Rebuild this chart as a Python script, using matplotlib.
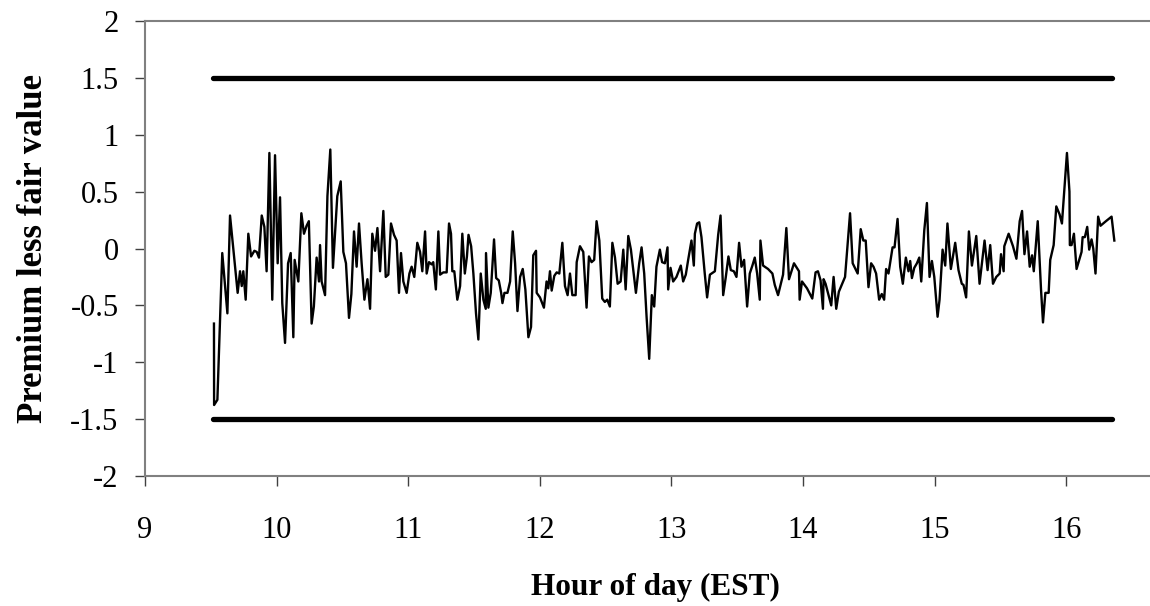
import numpy as np
import matplotlib
matplotlib.use("Agg")
import matplotlib.pyplot as plt

# -------------------------
# Data
# -------------------------
hours = [
    9.524, 9.525, 9.55, 9.587, 9.626, 9.646, 9.704, 9.722, 9.735, 9.747, 9.765, 9.785,
    9.806, 9.831, 9.849, 9.866, 9.887, 9.907, 9.924, 9.945, 9.967, 9.988, 10.008, 10.026,
    10.043, 10.064, 10.087, 10.107, 10.127, 10.137, 10.165, 10.188, 10.208, 10.228, 10.245,
    10.266, 10.283, 10.304, 10.322, 10.33, 10.342, 10.368, 10.386, 10.408, 10.428, 10.461,
    10.487, 10.507, 10.527, 10.55, 10.568, 10.588, 10.608, 10.626, 10.646, 10.667, 10.69,
    10.71, 10.727, 10.748, 10.766, 10.786,
    10.811, 10.829, 10.849, 10.869, 10.892, 10.912, 10.93, 10.945, 10.963, 10.988, 11.009,
    11.026, 11.046, 11.069, 11.09, 11.107, 11.128, 11.14, 11.158, 11.178, 11.19, 11.21,
    11.229, 11.242, 11.267, 11.292, 11.31, 11.325, 11.335, 11.35, 11.373, 11.394, 11.411,
    11.43, 11.446, 11.458, 11.478, 11.495, 11.515, 11.533, 11.551, 11.571, 11.589, 11.591,
    11.609, 11.627, 11.652, 11.668, 11.688, 11.706, 11.716, 11.731, 11.754, 11.774, 11.794,
    11.812, 11.83, 11.85, 11.87, 11.89, 11.913, 11.933, 11.95, 11.971, 11.976, 12.001,
    12.031, 12.051, 12.064, 12.077, 12.09, 12.11, 12.128, 12.148, 12.171, 12.191, 12.211,
    12.229, 12.247, 12.272, 12.28, 12.305, 12.33, 12.355, 12.373, 12.393, 12.413, 12.431,
    12.452, 12.474, 12.494, 12.512, 12.532,
    12.551, 12.571, 12.591, 12.614, 12.634, 12.652, 12.672, 12.692, 12.71, 12.73, 12.755,
    12.773, 12.793, 12.811, 12.831, 12.851, 12.869, 12.886, 12.912, 12.929, 12.95, 12.97,
    12.975, 12.993, 13.013, 13.038, 13.071, 13.089, 13.109, 13.127, 13.152, 13.17, 13.178,
    13.195, 13.211, 13.228, 13.253, 13.271, 13.292, 13.33, 13.355, 13.373, 13.393, 13.413,
    13.433, 13.451, 13.474, 13.494, 13.514, 13.532, 13.552, 13.575, 13.595, 13.615, 13.633,
    13.651, 13.671, 13.676, 13.696, 13.734, 13.767, 13.785, 13.81, 13.848, 13.873, 13.893,
    13.931, 13.969, 13.974, 13.992, 14.03, 14.07, 14.095, 14.113, 14.133, 14.151, 14.156,
    14.171, 14.189, 14.214, 14.232, 14.252, 14.272,
    14.319, 14.357, 14.377, 14.415, 14.438, 14.458, 14.476, 14.497, 14.517, 14.535, 14.555,
    14.578, 14.598, 14.616, 14.631, 14.649, 14.68, 14.695, 14.718, 14.738, 14.758, 14.781,
    14.801, 14.814, 14.827, 14.845, 14.865, 14.883, 14.898, 14.921, 14.941, 14.961, 14.979,
    14.997, 15.022, 15.037, 15.06, 15.08, 15.097, 15.123, 15.156, 15.181, 15.206, 15.219,
    15.239, 15.26, 15.283, 15.316, 15.341, 15.379, 15.402, 15.422, 15.443, 15.468, 15.494,
    15.504, 15.524, 15.529, 15.562, 15.595, 15.621, 15.646, 15.664, 15.682, 15.702, 15.722,
    15.74, 15.753, 15.783, 15.808, 15.823, 15.841, 15.866, 15.878, 15.904, 15.924, 15.949,
    15.967, 16.005,
    16.024, 16.027, 16.04, 16.058, 16.078, 16.098, 16.116, 16.124, 16.141, 16.159, 16.174,
    16.192, 16.205, 16.222, 16.242, 16.26, 16.301, 16.344, 16.365,
]
premium = [
    -0.66, -1.376, -1.33, -0.04, -0.57, 0.29, -0.39, -0.20, -0.33, -0.20, -0.45, 0.13,
    -0.07, -0.02, -0.03, -0.08, 0.29, 0.19, -0.20, 0.84, -0.45, 0.82, -0.13, 0.45,
    -0.48, -0.83, -0.13, -0.04, -0.78, -0.10, -0.29, 0.31, 0.13, 0.20, 0.24,
    -0.66, -0.51, -0.08, -0.29, 0.03, -0.29, -0.41, 0.46, 0.87, -0.17, 0.46,
    0.59, -0.03, -0.13, -0.61, -0.40, 0.15, -0.16, 0.22, -0.13, -0.45, -0.27,
    -0.53, 0.13, -0.02, 0.18, -0.20,
    0.33, -0.25, -0.23, 0.22, 0.12, 0.07, -0.39, -0.04, -0.29, -0.39, -0.22,
    -0.16, -0.25, 0.05, -0.03, -0.20, 0.15, -0.22, -0.12, -0.14, -0.12, -0.36,
    0.15, -0.23, -0.21, -0.21, 0.22, 0.13, -0.20, -0.20, -0.45, -0.33, 0.13,
    -0.22, -0.07, 0.12, 0.02, -0.22, -0.57, -0.80, -0.22, -0.45, -0.53, -0.04,
    -0.52, -0.39, 0.08, -0.26, -0.28, -0.39, -0.48, -0.39, -0.39, -0.29, 0.15,
    -0.13, -0.55, -0.25, -0.18, -0.36, -0.78, -0.69, -0.06, -0.02, -0.39, -0.43,
    -0.52, -0.29, -0.35, -0.20, -0.37, -0.24, -0.21, -0.22, 0.05, -0.33, -0.41,
    -0.22, -0.41, -0.41, -0.12, 0.02, -0.03, -0.52, -0.07, -0.12, -0.10, 0.24,
    0.07, -0.44, -0.47, -0.45, -0.51,
    0.05, -0.08, -0.31, -0.29, -0.01, -0.36, 0.11, -0.01, -0.19, -0.39, -0.13,
    0.01, -0.22, -0.60, -0.97, -0.41, -0.51, -0.16, -0.01, -0.12, -0.13, 0.01,
    -0.36, -0.17, -0.29, -0.25, -0.15, -0.29, -0.23, -0.10, 0.07, -0.15, 0.13,
    0.22, 0.23, 0.10, -0.22, -0.43, -0.23, -0.20, 0.12, 0.29, -0.41, -0.25,
    -0.07, -0.19, -0.20, -0.25, 0.05, -0.16, -0.10, -0.51, -0.22, -0.15, -0.08,
    -0.22, -0.45, 0.07, -0.15, -0.18, -0.22, -0.32, -0.41, -0.23, 0.18, -0.27,
    -0.13, -0.20, -0.45, -0.29, -0.35, -0.44, -0.21, -0.20, -0.28, -0.53, -0.27,
    -0.31, -0.39, -0.50, -0.25, -0.53, -0.38,
    -0.25, 0.31, -0.13, -0.22, 0.17, 0.07, 0.07, -0.34, -0.13, -0.16, -0.22,
    -0.45, -0.40, -0.45, -0.18, -0.22, 0.01, 0.01, 0.26, -0.16, -0.31, -0.08,
    -0.20, -0.11, -0.26, -0.17, -0.13, -0.08, -0.29, 0.16, 0.40, -0.25, -0.11,
    -0.25, -0.60, -0.45, -0.01, -0.15, 0.22, -0.18, 0.05, -0.19, -0.31, -0.32,
    -0.43, 0.15, -0.15, 0.11, -0.31, 0.07, -0.19, 0.03, -0.31, -0.25, -0.22,
    -0.05, -0.20, 0.02, 0.13, 0.02, -0.09, 0.24, 0.33, -0.05, 0.15, -0.16,
    -0.06, -0.20, 0.24, -0.36, -0.65, -0.39, -0.39, -0.10, 0.03, 0.37, 0.30,
    0.22, 0.84,
    0.50, 0.03, 0.03, 0.13, -0.18, -0.10, -0.03, 0.10, 0.10, 0.19, -0.01,
    0.08, 0.00, -0.22, 0.28, 0.20, 0.24, 0.28, 0.07,
]
band_hours = [9.52, 16.35]
upper_band = [1.5, 1.5]
lower_band = [-1.5, -1.5]

x_ticks = [9, 10, 11, 12, 13, 14, 15, 16]
y_ticks = [-2, -1.5, -1, -0.5, 0, 0.5, 1, 1.5, 2]
y_tick_labels = ["-2", "-1.5", "-1", "-0.5", "0", "0.5", "1", "1.5", "2"]

# -------------------------
# Plot
# -------------------------
plt.rcParams["font.family"] = ["Liberation Serif", "DejaVu Serif"]

fig = plt.figure(figsize=(11.5, 6.06), dpi=100)
ax = fig.add_axes([145 / 1150, 130 / 606, 1020 / 1150, 455 / 606])

ax.plot(band_hours, upper_band, color="black", lw=3.8, solid_capstyle="round")
ax.plot(band_hours, lower_band, color="black", lw=3.8, solid_capstyle="round")
ax.plot(hours, premium, color="black", lw=1.7)

ax.set_xlim(9, 16.75)
ax.set_ylim(-2, 2)
ax.set_xticks(x_ticks)
ax.set_xticklabels([str(h) for h in x_ticks])
ax.set_yticks(y_ticks)
ax.set_yticklabels(y_tick_labels)

for side in ["left", "bottom", "top"]:
    ax.spines[side].set_color("#808080")
    ax.spines[side].set_linewidth(1.5)
ax.spines["right"].set_visible(False)

ax.tick_params(axis="both", direction="out", length=7, width=1, color="#404040",
               labelsize=22, top=False, right=False)
ax.tick_params(axis="x", pad=22)
ax.tick_params(axis="y", pad=12)

ax.set_xlabel("Hour of day (EST)", fontsize=22.5, fontweight="bold", labelpad=20)
ax.set_ylabel("Premium less fair value", fontsize=25, fontweight="bold", labelpad=15)

fig.savefig("out.png", dpi=100)
